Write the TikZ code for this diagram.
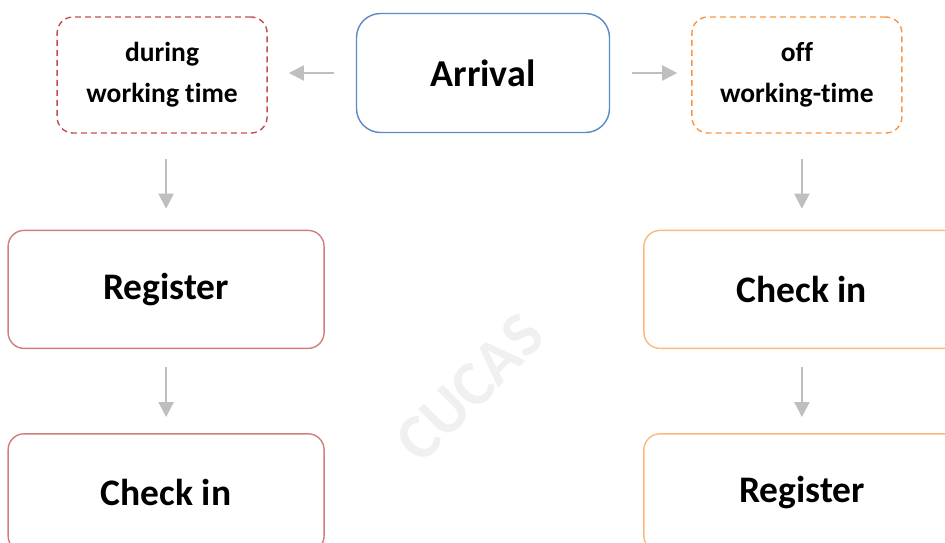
\documentclass[tikz,border=0pt]{standalone}
\usepackage{fontspec}
\setmainfont{Carlito}[Ligatures=NoCommon]
\usetikzlibrary{arrows.meta,positioning}
\definecolor{darkred}{RGB}{192,80,77}
\definecolor{softred}{RGB}{210,125,122}
\definecolor{darkorange}{RGB}{247,150,70}
\definecolor{softorange}{RGB}{250,185,125}
\definecolor{steelblue}{RGB}{90,138,200}
\definecolor{arrowgray}{RGB}{191,191,191}
\tikzstyle{block} = [rectangle, draw, line width=1.4pt, rounded corners=16pt,
    align=center, inner sep=0pt, minimum width=316pt, minimum height=118pt,
    font=\bfseries\fontsize{37.5}{40}\selectfont]
\tikzstyle{choice} = [block, dash pattern=on 6pt off 4pt, minimum width=210pt,
    minimum height=116pt, font=\bfseries\fontsize{27.5}{41}\selectfont]
\tikzstyle{link} = [draw=arrowgray, line width=2pt, -{Triangle[length=15pt,width=15pt]}]
\begin{document}
\begin{tikzpicture}[x=1pt,y=-1pt]
  \useasboundingbox (0,0) rectangle (945,543);
  \clip (0,0) rectangle (945,543);

  \node[gray!12, rotate=45, font=\bfseries\fontsize{64}{70}\selectfont] (mark) at (470,388) {CUCAS};

  \node[block, draw=steelblue, rounded corners=24pt, minimum width=253pt, minimum height=119pt,
        font=\bfseries\fontsize{38}{40}\selectfont] (arrival) at (483,73) {Arrival};
  \node[choice, draw=darkred]    (during) [left=88pt of arrival, yshift=-2pt]  {during\\working time};
  \node[choice, draw=darkorange] (off)    [right=81pt of arrival, yshift=-2pt] {off\\working-time};

  \node[block, draw=softred]    (regL) [below=96pt of during, xshift=4pt] {Register};
  \node[block, draw=softred]    (chkL) [below=84pt of regL]              {Check in};
  \node[block, draw=softorange] (chkR) [below=96pt of off, xshift=5pt]   {Check in};
  \node[block, draw=softorange] (regR) [below=84pt of chkR]              {Register};

  \draw[link, shorten <=22pt, shorten >=21pt] (arrival.west) -- (arrival.west -| during.east);
  \draw[link, shorten <=22pt, shorten >=14pt] (arrival.east) -- (arrival.east -| off.west);
  \draw[link, shorten <=25pt, shorten >=21pt] (during.south -| regL.north) -- (regL.north);
  \draw[link, shorten <=25pt, shorten >=21pt] (off.south -| chkR.north) -- (chkR.north);
  \draw[link, shorten <=18pt, shorten >=16pt] (regL) -- (chkL);
  \draw[link, shorten <=18pt, shorten >=16pt] (chkR) -- (regR);
\end{tikzpicture}
\end{document}
